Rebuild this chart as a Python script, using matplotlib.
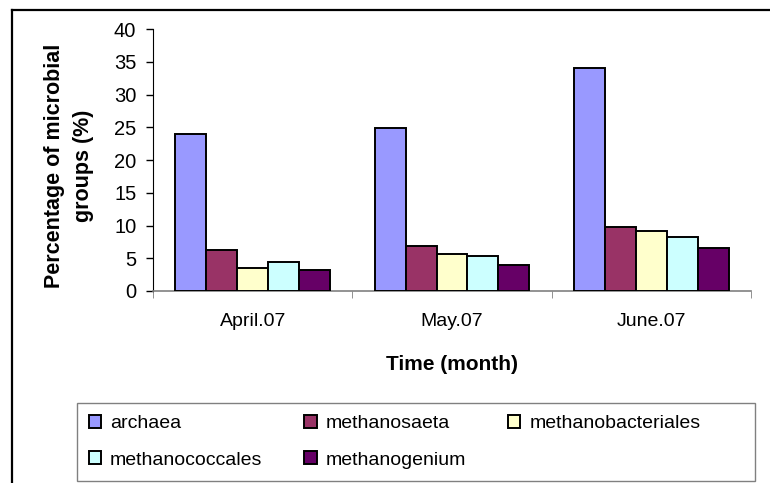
import matplotlib
matplotlib.use("Agg")
import matplotlib.pyplot as plt
from matplotlib.lines import Line2D
from matplotlib.patches import Rectangle
import numpy as np

plt.rcParams['font.family'] = ['Liberation Sans', 'DejaVu Sans']

months = ["April.07", "May.07", "June.07"]
groups = ["archaea", "methanosaeta", "methanobacteriales", "methanococcales", "methanogenium"]
archaea = [24.0, 24.9, 34.0]
methanosaeta = [6.2, 6.8, 9.7]
methanobacteriales = [3.5, 5.6, 9.2]
methanococcales = [4.4, 5.3, 8.3]
methanogenium = [3.2, 3.9, 6.5]
colors = ["#9999FF", "#993366", "#FFFFCC", "#CCFFFF", "#660066"]

series = [archaea, methanosaeta, methanobacteriales, methanococcales, methanogenium]

W, H = 770, 483
fig = plt.figure(figsize=(W / 100, H / 100), dpi=100)
ax = fig.add_axes([153 / W, 1 - 291 / H, (751 - 153) / W, (291 - 29) / H])

x = np.arange(len(months))
bw = 0.155
bars = []
for i, (vals, col, name) in enumerate(zip(series, colors, groups)):
    b = ax.bar(x + (i - 2) * bw, vals, bw, color=col, edgecolor="black",
               linewidth=1.4, label=name, zorder=3)
    bars.append(b)

ax.set_xlim(-0.5, 2.5)
ax.set_ylim(0, 40)
ax.set_yticks(range(0, 41, 5))
ax.set_xticks(x)
ax.set_xticklabels(months)
ax.set_xticks([-0.5, 0.5, 1.5, 2.5], minor=True)
ax.tick_params(axis="x", which="major", length=0, pad=16, labelsize=14)
ax.tick_params(axis="x", which="minor", length=5, color="#808080", direction="out")
ax.tick_params(axis="y", length=5, width=1, color="black", pad=7, labelsize=14.5)

for s in ["top", "right"]:
    ax.spines[s].set_visible(False)
ax.spines["left"].set_color("black")
ax.spines["left"].set_linewidth(0.8)
ax.spines["bottom"].set_color("#808080")
ax.spines["bottom"].set_linewidth(1.2)

ax.set_xlabel("Time (month)", fontsize=15, fontweight="bold", labelpad=18)
fig.text(69 / W, 1 - 166 / H, "Percentage of microbial\ngroups (%)", rotation=90,
         ha="center", va="center", fontsize=15.5, fontweight="bold",
         multialignment="center", linespacing=1.55)

# legend box drawn separately so it spans the same width as the original
fig.add_artist(Rectangle((77 / W, 1 - 481 / H), (755 - 77) / W, (481 - 403) / H,
                         transform=fig.transFigure, facecolor="white",
                         edgecolor="#808080", lw=1.0))

# legend laid out row-wise like the original
order = [0, 3, 1, 4, 2]
leg = fig.legend([bars[k] for k in order], [groups[k] for k in order],
                 ncol=3, loc="upper left",
                 bbox_to_anchor=(77 / W, 1 - 403 / H), borderaxespad=0,
                 fontsize=14, handlelength=0.65, handleheight=0.65,
                 handletextpad=0.45, borderpad=0.6, labelspacing=1.0,
                 columnspacing=2.15, frameon=False)

# outer chart border (top and left visible)
fig.add_artist(Line2D([12 / W, 12 / W], [0, 1 - 10 / H], color="black", lw=1.6,
                      transform=fig.transFigure))
fig.add_artist(Line2D([12 / W, 1], [1 - 10 / H, 1 - 10 / H], color="black", lw=1.6,
                      transform=fig.transFigure))

fig.savefig("out.png", dpi=100)
